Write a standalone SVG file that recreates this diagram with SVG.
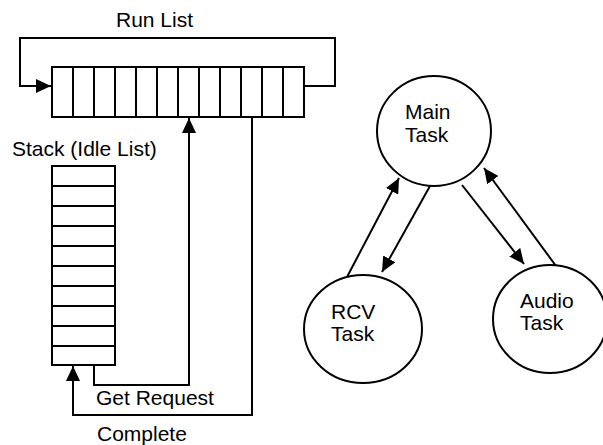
<svg xmlns="http://www.w3.org/2000/svg" width="603" height="445" viewBox="0 0 603 445">
  <style>
    .box { fill: #fff; stroke: #000; stroke-width: 2; }
    .div { stroke: #000; stroke-width: 2; }
    .wire { fill: none; stroke: #000; stroke-width: 2; }
    .lbl { font-family: "Liberation Sans", Arial, sans-serif; font-size: 21px; fill: #000; }
  </style>
  <defs>
    <marker id="arrow" markerUnits="userSpaceOnUse" markerWidth="16" markerHeight="14" refX="15" refY="7" orient="auto">
      <path d="M0,0 L15,7 L0,14 z" fill="#000"/>
    </marker>
  </defs>
  <rect width="603" height="445" fill="#fff"/>

  <!-- connectors -->
  <g id="connectors">
    <!-- run list wrap-around -->
    <path class="wire" d="M304,86 H335 V38 H20 V86 H51" marker-end="url(#arrow)"/>
    <!-- get request: stack to run list -->
    <path class="wire" d="M94,365 V385 H189 V118" marker-end="url(#arrow)"/>
    <!-- complete: run list back to stack -->
    <path class="wire" d="M252,117 V415 H73 V366" marker-end="url(#arrow)"/>
    <!-- task links -->
    <line class="wire" x1="347" y1="277" x2="399" y2="178" marker-end="url(#arrow)"/>
    <line class="wire" x1="430" y1="186" x2="382" y2="272" marker-end="url(#arrow)"/>
    <line class="wire" x1="462" y1="185" x2="524" y2="264" marker-end="url(#arrow)"/>
    <line class="wire" x1="556" y1="266" x2="484" y2="168" marker-end="url(#arrow)"/>
  </g>

  <!-- run list queue -->
  <g id="run-list">
    <rect class="box" x="52" y="67" width="252" height="50"/>
    <g class="div">
      <line x1="73" y1="67" x2="73" y2="117"/>
      <line x1="94" y1="67" x2="94" y2="117"/>
      <line x1="115" y1="67" x2="115" y2="117"/>
      <line x1="136" y1="67" x2="136" y2="117"/>
      <line x1="157" y1="67" x2="157" y2="117"/>
      <line x1="178" y1="67" x2="178" y2="117"/>
      <line x1="199" y1="67" x2="199" y2="117"/>
      <line x1="220" y1="67" x2="220" y2="117"/>
      <line x1="241" y1="67" x2="241" y2="117"/>
      <line x1="262" y1="67" x2="262" y2="117"/>
      <line x1="283" y1="67" x2="283" y2="117"/>
    </g>
    <text class="lbl" x="116" y="27">Run List</text>
  </g>

  <!-- idle stack -->
  <g id="stack">
    <rect class="box" x="52" y="166" width="63" height="199"/>
    <g class="div">
      <line x1="52" y1="186" x2="115" y2="186"/>
      <line x1="52" y1="206" x2="115" y2="206"/>
      <line x1="52" y1="226" x2="115" y2="226"/>
      <line x1="52" y1="246" x2="115" y2="246"/>
      <line x1="52" y1="266" x2="115" y2="266"/>
      <line x1="52" y1="286" x2="115" y2="286"/>
      <line x1="52" y1="306" x2="115" y2="306"/>
      <line x1="52" y1="326" x2="115" y2="326"/>
      <line x1="52" y1="346" x2="115" y2="346"/>
    </g>
    <text class="lbl" x="12" y="156">Stack (Idle List)</text>
  </g>

  <g id="labels">
    <text class="lbl" x="96" y="405">Get Request</text>
    <text class="lbl" x="97" y="441">Complete</text>
  </g>

  <!-- tasks -->
  <g id="main-task">
    <ellipse class="box" cx="434" cy="131" rx="57" ry="55"/>
    <text class="lbl" x="405" y="119">Main</text>
    <text class="lbl" x="405" y="142">Task</text>
  </g>
  <g id="rcv-task">
    <ellipse class="box" cx="363" cy="329" rx="59" ry="54"/>
    <text class="lbl" x="331" y="319">RCV</text>
    <text class="lbl" x="331" y="341">Task</text>
  </g>
  <g id="audio-task">
    <ellipse class="box" cx="550" cy="319" rx="57" ry="54"/>
    <text class="lbl" x="520" y="308">Audio</text>
    <text class="lbl" x="520" y="330">Task</text>
  </g>
</svg>
